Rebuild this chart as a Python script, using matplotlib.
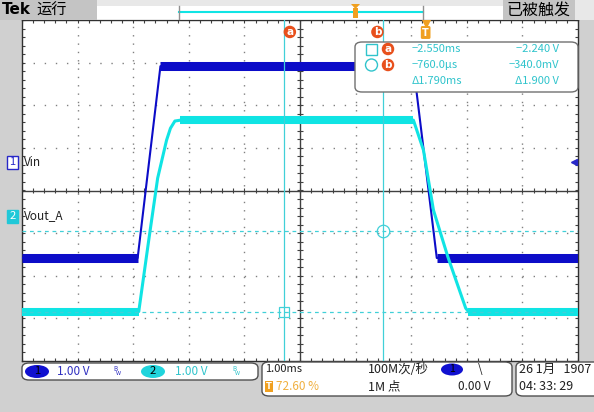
import numpy as np
import matplotlib.pyplot as plt
from matplotlib.patches import FancyBboxPatch, Rectangle, Ellipse, Polygon

plt.rcParams['font.family'] = ['Noto Sans CJK SC', 'DejaVu Sans']

W, H = 594, 412

# screen data: time in ms (trigger at 0), volts
t_left, t_right = -7.26, 2.74
vin_t = [-7.26, -5.18, -4.77, -0.22, 0.20, 2.74]
vin_v = [-2.25, -2.25, 2.25, 2.25, -2.25, -2.25]
vout_t = [-7.26, -5.16, -4.98, -4.82, -4.66, -4.59, -4.51, -4.41,
          -0.22, -0.04, 0.14, 0.40, 0.72, 0.77, 2.74]
vout_v = [-2.24, -2.24, -0.56, 0.89, 1.78, 2.06, 2.23, 2.25,
          2.25, 1.55, 0.14, -0.96, -2.16, -2.24, -2.24]

ch1_pos = 0.667   # divisions
ch2_pos = -0.60
vdiv = 1.0

cur_t = [-2.550, -0.760]   # ms
cur_v = [-2.240, -0.340]   # V (ch2)

BLUE = '#0c0cc8'
CYAN = '#10e4e4'
CYTXT = '#30c4cc'
ORANGE = '#e8501c'
TORANGE = '#f0a020'


def fx(x):
    return x / W


def fy(y):
    return 1 - y / H


fig = plt.figure(figsize=(W / 100, H / 100), dpi=100, facecolor='#d0d0d0')

# top bar
fig.patches.append(Rectangle((0, fy(20)), 1, 20 / H, transform=fig.transFigure,
                             fc='#e8e8e8', ec='none', zorder=0))
fig.patches.append(Rectangle((0, fy(20)), fx(97), 20 / H, transform=fig.transFigure,
                             fc='#c4c4c4', ec='none', zorder=0))
fig.patches.append(Rectangle((fx(97), fy(19)), fx(503 - 97), 13 / H, transform=fig.transFigure,
                             fc='white', ec='none', zorder=0))
fig.patches.append(Rectangle((fx(503), fy(20)), fx(72), 20 / H, transform=fig.transFigure,
                             fc='#c4c4c4', ec='none', zorder=0))
fig.text(fx(2), fy(10), 'Tek', fontsize=11, fontweight='bold', va='center', family='DejaVu Sans')
fig.text(fx(36), fy(10), '运行', fontsize=11, va='center')
fig.text(fx(506), fy(10), '已被触发', fontsize=11.5, va='center')
fig.lines.append(plt.Line2D([fx(179), fx(423)], [fy(12), fy(12)], transform=fig.transFigure,
                            color=CYAN, lw=1.5))
for xx in (179, 423):
    fig.lines.append(plt.Line2D([fx(xx), fx(xx)], [fy(6), fy(19)], transform=fig.transFigure,
                                color='#909090', lw=1))
fig.patches.append(Rectangle((fx(353), fy(18)), fx(5), 10 / H, transform=fig.transFigure,
                             fc=TORANGE, ec='none', zorder=2))
fig.patches.append(Polygon([(fx(351), fy(4)), (fx(360), fy(4)), (fx(355.5), fy(9))],
                           transform=fig.transFigure, fc=TORANGE, ec='none', zorder=2))

# graticule area
ax = fig.add_axes([fx(22), fy(361), fx(556), 341 / H])
ax.set_xlim(t_left, t_right)
ax.set_ylim(-4, 4)
ax.set_xticks([])
ax.set_yticks([])
ax.set_facecolor('white')
for s in ax.spines.values():
    s.set_color('#303030')
    s.set_linewidth(1)

for i in range(1, 10):
    if i != 5:
        ax.axvline(t_left + i, color='#808080', lw=1, ls=(0, (1, 5)), zorder=1)
for j in range(-3, 4):
    if j != 0:
        ax.axhline(j, color='#808080', lw=1, ls=(0, (1, 7)), zorder=1)
xc = t_left + 5
ax.axhline(0, color='#404040', lw=1, zorder=1)
ax.axvline(xc, color='#404040', lw=1, zorder=1)
tx = t_left + np.arange(0, 10.01, 0.2)
ty = np.arange(-4, 4.01, 0.2)
ax.vlines(tx, -0.07, 0.07, color='#404040', lw=0.8, zorder=1)
ax.hlines(ty, xc - 0.05, xc + 0.05, color='#404040', lw=0.8, zorder=1)
ax.vlines(tx, -4, -3.93, color='#404040', lw=0.8, zorder=1)
ax.vlines(tx, 3.93, 4, color='#404040', lw=0.8, zorder=1)
ax.hlines(ty, t_left, t_left + 0.05, color='#404040', lw=0.8, zorder=1)
ax.hlines(ty, t_right - 0.05, t_right, color='#404040', lw=0.8, zorder=1)

# traces
y1 = [v / vdiv + ch1_pos for v in vin_v]
y2 = [v / vdiv + ch2_pos for v in vout_v]
ax.plot(vin_t, y1, color=BLUE, lw=1.5, zorder=3)
for a, b in ((0, 2), (2, 4), (4, 6)):
    ax.plot(vin_t[a:b], y1[a:b], color=BLUE, lw=6.5, solid_capstyle='butt', zorder=3)
ax.plot(vout_t, y2, color=CYAN, lw=2.2, zorder=4)
for a, b in ((0, 2), (7, 9), (13, 15)):
    ax.plot(vout_t[a:b], y2[a:b], color=CYAN, lw=5.8, solid_capstyle='butt', zorder=4)

# cursors
for t in cur_t:
    ax.axvline(t, color='#40d0d8', lw=0.9, zorder=5)
for v in cur_v:
    ax.axhline(v / vdiv + ch2_pos, color='#40d0d8', lw=0.9, ls=(0, (3, 3)), zorder=5)
ax.plot(cur_t[0], cur_v[0] / vdiv + ch2_pos, marker='s', ms=7, mfc='none', mec='#40d0d8', mew=0.9, zorder=6)
ax.plot(cur_t[1], cur_v[1] / vdiv + ch2_pos, marker='o', ms=9, mfc='none', mec='#40d0d8', mew=0.9, zorder=6)
for t, lab, dx in ((cur_t[0], 'a', 4.3), (cur_t[1], 'b', -4.3)):
    ax.annotate(lab, xy=(t, 1), xycoords=('data', 'axes fraction'), xytext=(dx, -8.6),
                textcoords='offset points', ha='center', va='center', color='white',
                fontsize=7.5, fontweight='bold', family='DejaVu Sans', zorder=7,
                bbox=dict(boxstyle='circle,pad=0.12', fc=ORANGE, ec='none'))
ax.annotate('T', xy=(0, 1), xycoords=('data', 'axes fraction'), xytext=(0, -9),
            textcoords='offset points', ha='center', va='center', color='white',
            fontsize=7, fontweight='bold', family='DejaVu Sans', zorder=7,
            bbox=dict(boxstyle='round,pad=0.15', fc=TORANGE, ec='none'))
ax.plot(0, 3.93, marker='v', ms=6, color=TORANGE, clip_on=False, zorder=7)

# trigger level arrow (ch1, 0.00 V)
ax.plot(t_right - 0.07, 0.0 / vdiv + ch1_pos, marker='<', ms=5, color='#2828c8', clip_on=False, zorder=7)

# channel labels
fig.patches.append(Rectangle((fx(7), fy(169)), fx(11), 13 / H, transform=fig.transFigure,
                             fc='white', ec='#2828c8', lw=1, zorder=6))
fig.text(fx(12.5), fy(162), '1', color='#2828c8', fontsize=8, ha='center', va='center', zorder=7)
fig.text(fx(24), fy(162), 'Vin', color='#202020', fontsize=8.5, va='center', zorder=7)
fig.patches.append(Rectangle((fx(7), fy(223)), fx(11), 13 / H, transform=fig.transFigure,
                             fc='#20c8d8', ec='#20c8d8', lw=1, zorder=6))
fig.text(fx(12.5), fy(216), '2', color='white', fontsize=8, ha='center', va='center', zorder=7)
fig.text(fx(24), fy(216), 'Vout_A', color='#202020', fontsize=8.5, va='center', zorder=7)

# measurement readout
fig.patches.append(FancyBboxPatch((fx(355), fy(92)), fx(223), 50 / H, transform=fig.transFigure,
                                  boxstyle='round,pad=0,rounding_size=0.012', fc='white',
                                  ec='#707070', lw=1, zorder=6))
fig.patches.append(Rectangle((fx(366), fy(55)), fx(11), 11 / H, transform=fig.transFigure,
                             fc='none', ec=CYTXT, lw=1, zorder=7))
fig.patches.append(Ellipse((fx(371.5), fy(65)), fx(12), 12 / H, transform=fig.transFigure,
                           fc='none', ec=CYTXT, lw=1, zorder=7))
for lab, yy in (('a', 49), ('b', 65)):
    fig.text(fx(388), fy(yy), lab, color='white', fontsize=7.5, fontweight='bold', family='DejaVu Sans',
             ha='center', va='center', zorder=8,
             bbox=dict(boxstyle='circle,pad=0.12', fc=ORANGE, ec='none'))


def fmt_t(t):
    if abs(t) < 1:
        return f'{t * 1000:.1f}µs'.replace('-', '−')
    return f'{t:.3f}ms'.replace('-', '−')


def fmt_v(v):
    if abs(v) < 1:
        return f'{v * 1000:.1f}mV'.replace('-', '−')
    return f'{v:.3f} V'.replace('-', '−')


rows = [(fmt_t(cur_t[0]), fmt_v(cur_v[0])),
        (fmt_t(cur_t[1]), fmt_v(cur_v[1])),
        ('Δ' + f'{cur_t[1] - cur_t[0]:.3f}ms', 'Δ' + f'{cur_v[1] - cur_v[0]:.3f} V')]
for (ts, vs), yy in zip(rows, (49, 65, 81)):
    fig.text(fx(412), fy(yy), ts, color=CYTXT, fontsize=8, va='center', zorder=8)
    fig.text(fx(559), fy(yy), vs, color=CYTXT, fontsize=8, va='center', ha='right', zorder=8)

# bottom info boxes
for x0, y0, x1, y1_ in ((22, 363, 258, 380), (262, 362, 512, 396), (516, 362, 610, 396)):
    fig.patches.append(FancyBboxPatch((fx(x0), fy(y1_)), fx(x1 - x0), (y1_ - y0) / H,
                                      transform=fig.transFigure,
                                      boxstyle='round,pad=0,rounding_size=0.012', fc='white',
                                      ec='#505050', lw=1, zorder=6))
fig.patches.append(Ellipse((fx(37), fy(371.5)), fx(24), 13 / H, transform=fig.transFigure,
                           fc='#1010d0', ec='none', zorder=7))
fig.text(fx(37), fy(371.5), '1', color='black', fontsize=8, ha='center', va='center', zorder=8)
fig.text(fx(57), fy(371.5), '1.00 V', color='#3030c0', fontsize=8.5, va='center', zorder=8)
fig.patches.append(Ellipse((fx(153), fy(371.5)), fx(24), 13 / H, transform=fig.transFigure,
                           fc='#20d4dc', ec='none', zorder=7))
fig.text(fx(153), fy(371.5), '2', color='black', fontsize=8, ha='center', va='center', zorder=8)
fig.text(fx(175), fy(371.5), '1.00 V', color=CYTXT, fontsize=8.5, va='center', zorder=8)
for xx, cc in ((113, '#3030c0'), (232, CYTXT)):
    fig.text(fx(xx), fy(369), 'B', color=cc, fontsize=4.5, va='center', zorder=8)
    fig.text(fx(xx + 3), fy(373), 'w', color=cc, fontsize=4.5, va='center', zorder=8)

fig.text(fx(265), fy(369.5), '1.00ms', color='#202020', fontsize=8, va='center', zorder=8)
fig.text(fx(269), fy(386.5), 'T', color='white', fontsize=6, fontweight='bold', family='DejaVu Sans',
         ha='center', va='center', zorder=8,
         bbox=dict(boxstyle='square,pad=0.15', fc=TORANGE, ec='none'))
fig.text(fx(276), fy(386.5), '72.60 %', color='#f0b040', fontsize=8.5, va='center', zorder=8)
fig.text(fx(368), fy(369.5), '100M次/秒', color='#202020', fontsize=9, va='center', zorder=8)
fig.text(fx(368), fy(386.5), '1M 点', color='#202020', fontsize=9, va='center', zorder=8)
fig.patches.append(Ellipse((fx(452), fy(369.5)), fx(22), 12 / H, transform=fig.transFigure,
                           fc='#1010d0', ec='none', zorder=7))
fig.text(fx(452), fy(369.5), '1', color='black', fontsize=7.5, ha='center', va='center', zorder=8)
fig.text(fx(478), fy(369.5), '\\', color='#202020', fontsize=8.5, va='center', zorder=8)
fig.text(fx(490), fy(386.5), '0.00 V', color='#202020', fontsize=8.5, va='center', ha='right', zorder=8)
fig.text(fx(519), fy(369.5), '26 1月   1907', color='#202020', fontsize=9, va='center', zorder=8)
fig.text(fx(519), fy(386.5), '04: 33: 29', color='#202020', fontsize=9, va='center', zorder=8)

fig.savefig('out.png', dpi=100, facecolor=fig.get_facecolor())
